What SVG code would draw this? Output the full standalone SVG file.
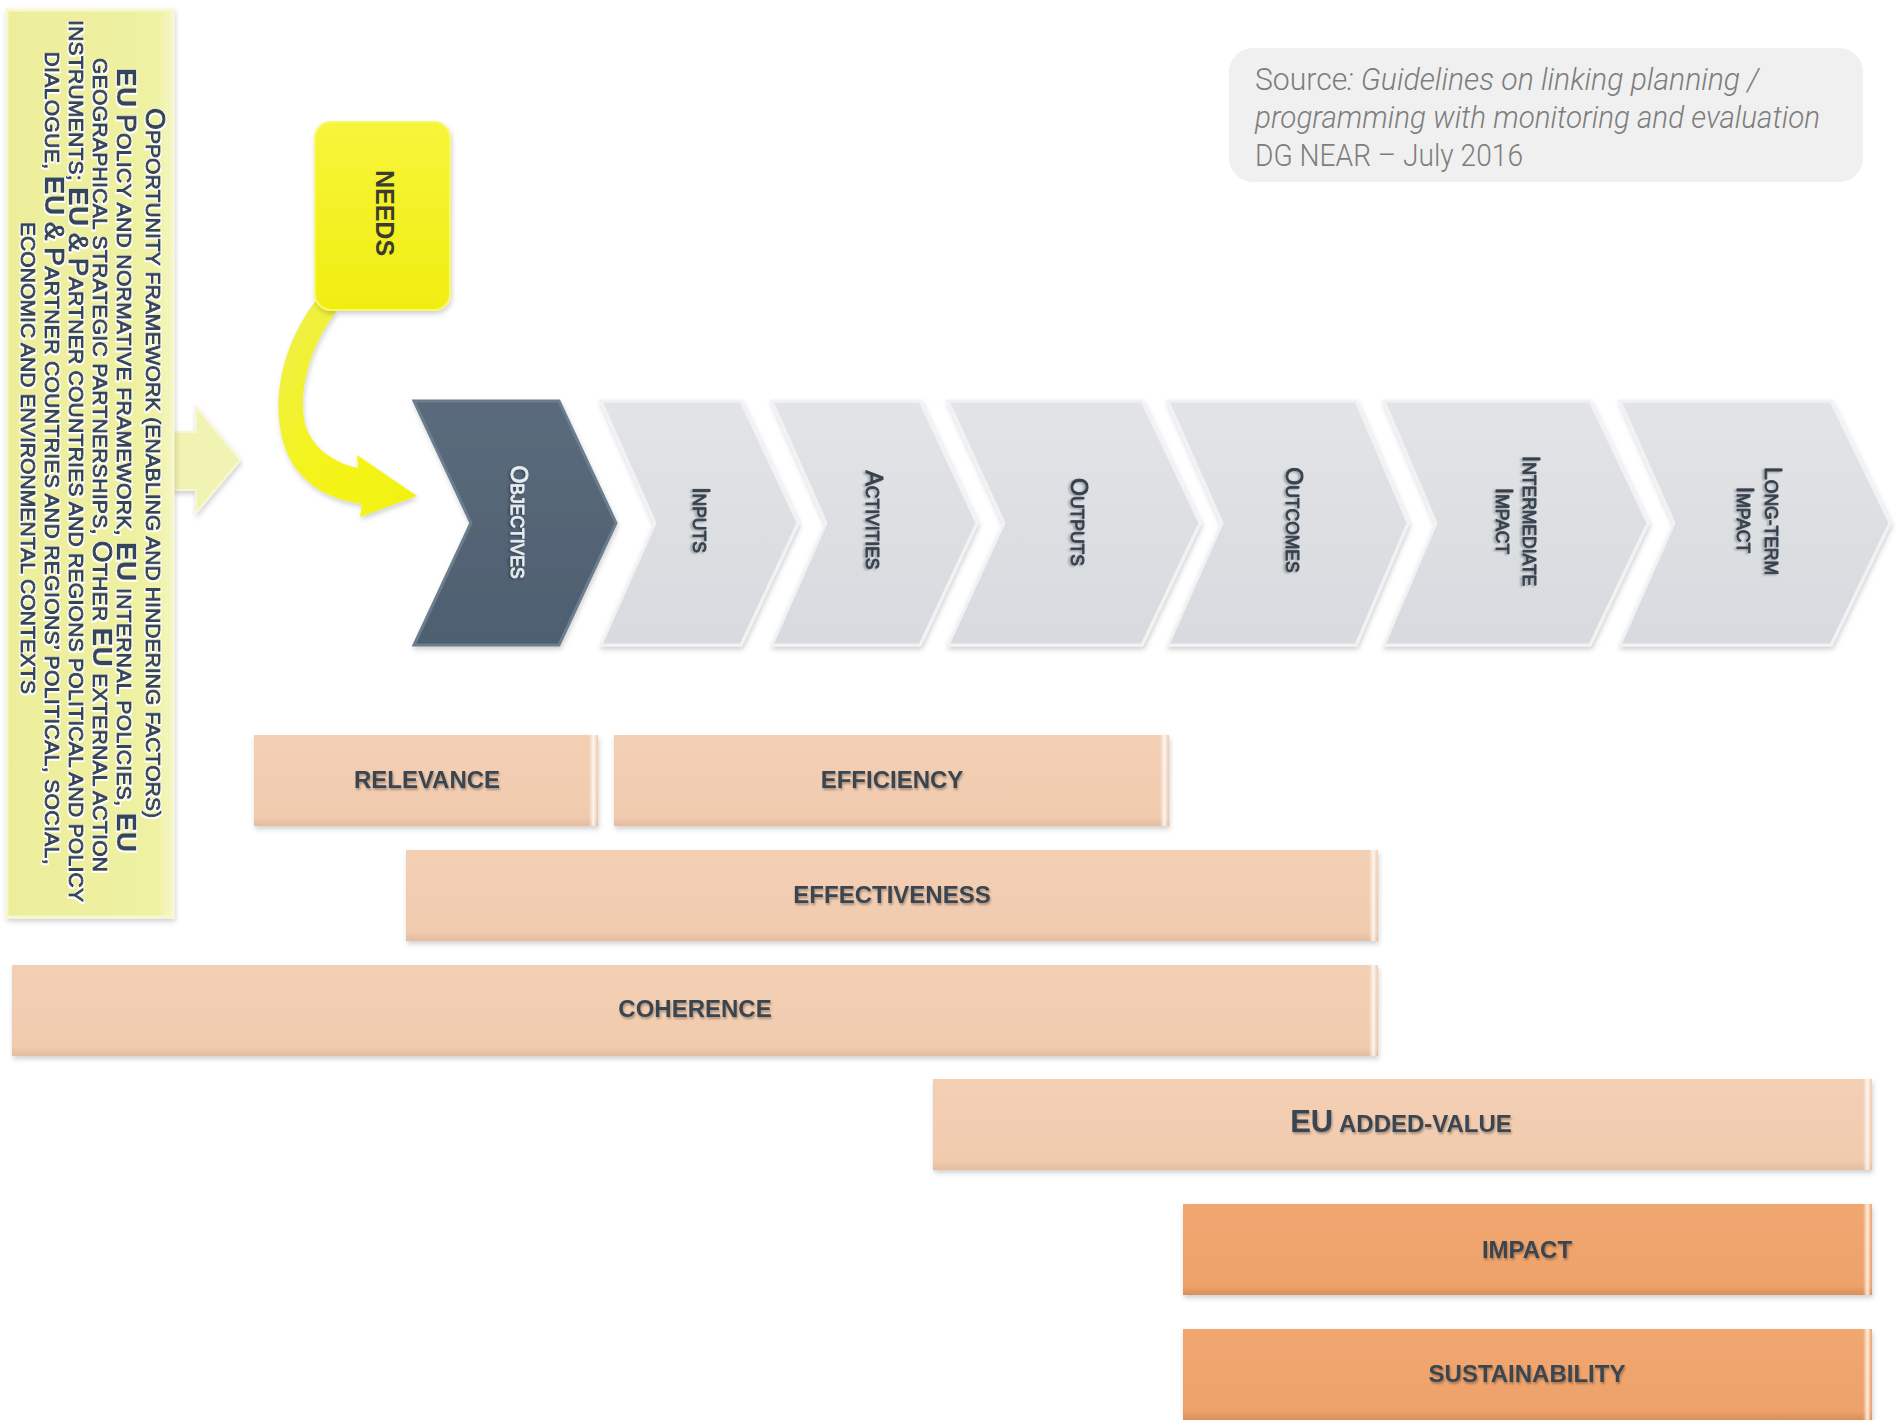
<svg xmlns="http://www.w3.org/2000/svg" width="1899" height="1420" viewBox="0 0 1899 1420">
  <defs>
    <style>
      .sans { font-family: "Liberation Sans", Arial, sans-serif; }
      .panel-txt { font-family: "Liberation Sans", Arial, sans-serif; font-size: 21px; fill: #34445a; stroke: #34445a; stroke-width: 1.1px; stroke-linejoin: round; filter: url(#halo); }
      .pl { font-size: 28px; }
      .plb { font-size: 28px; font-weight: bold; stroke-width: 0.5px; }
      .chev-txt { font-family: "Liberation Sans", Arial, sans-serif; font-size: 17.5px; fill: #36424f; stroke: #36424f; stroke-width: 0.9px; stroke-linejoin: round; filter: url(#tshadow); }
      .chev-txt .L { font-size: 23px; }
      .chev-dark-txt { fill: #e6ebf0; stroke: #e6ebf0; filter: url(#tshadowDark); }
      .bar-txt { font-family: "Liberation Sans", Arial, sans-serif; font-size: 24px; font-weight: bold; fill: #3b4550; filter: url(#tshadow); }
      .bar-txt .L { font-size: 31px; }
      .src { font-family: "Roboto", "Liberation Sans", sans-serif; font-weight: 300; font-size: 31px; fill: #7d7d7d; }
      .chev-light { fill: url(#gChevLight); stroke: #f1f2f4; stroke-width: 3; stroke-linejoin: miter; }
      .chev-dark { fill: url(#gChevDark); stroke: #6c7d8e; stroke-width: 3; stroke-linejoin: miter; }
      .bar-peach { fill: url(#gPeach); }
      .bar-orange { fill: url(#gOrange); }
    </style>
    <filter id="halo" x="-5%" y="-40%" width="110%" height="180%">
      <feMorphology in="SourceAlpha" operator="dilate" radius="1.1" result="d"/>
      <feOffset in="d" dx="0" dy="1" result="o"/>
      <feGaussianBlur in="o" stdDeviation="0.5" result="b"/>
      <feFlood flood-color="#ffffff"/>
      <feComposite in2="b" operator="in" result="w"/>
      <feMerge><feMergeNode in="w"/><feMergeNode in="SourceGraphic"/></feMerge>
    </filter>
    <filter id="tshadow" x="-10%" y="-40%" width="120%" height="180%">
      <feDropShadow dx="1" dy="2" stdDeviation="1.2" flood-color="#000000" flood-opacity="0.3"/>
    </filter>
    <filter id="tshadowDark" x="-10%" y="-40%" width="120%" height="180%">
      <feDropShadow dx="1" dy="1.5" stdDeviation="1" flood-color="#1d2730" flood-opacity="0.6"/>
    </filter>
    <filter id="shade" x="-5%" y="-10%" width="110%" height="125%">
      <feDropShadow dx="1" dy="3" stdDeviation="2.5" flood-color="#000000" flood-opacity="0.18"/>
    </filter>
    <linearGradient id="gChevLight" x1="0" y1="0" x2="0" y2="1">
      <stop offset="0" stop-color="#e2e4e7"/>
      <stop offset="1" stop-color="#d7dade"/>
    </linearGradient>
    <linearGradient id="gChevDark" x1="0" y1="0" x2="0" y2="1">
      <stop offset="0" stop-color="#5a6b7c"/>
      <stop offset="1" stop-color="#4e5f70"/>
    </linearGradient>
    <linearGradient id="gPeach" x1="0" y1="0" x2="0" y2="1">
      <stop offset="0" stop-color="#f3cfb4"/>
      <stop offset="0.9" stop-color="#f1cbae"/>
      <stop offset="1" stop-color="#e4bc9f"/>
    </linearGradient>
    <linearGradient id="gOrange" x1="0" y1="0" x2="0" y2="1">
      <stop offset="0" stop-color="#f1a770"/>
      <stop offset="0.9" stop-color="#eea26b"/>
      <stop offset="1" stop-color="#d98f5b"/>
    </linearGradient>
    <linearGradient id="gEdge" x1="0" y1="0" x2="1" y2="0">
      <stop offset="0" stop-color="#ffffff" stop-opacity="0"/>
      <stop offset="0.55" stop-color="#ffffff" stop-opacity="0.8"/>
      <stop offset="1" stop-color="#ffffff" stop-opacity="0.1"/>
    </linearGradient>
    <linearGradient id="gPanel" x1="0" y1="0" x2="1" y2="0">
      <stop offset="0" stop-color="#ecee9b"/>
      <stop offset="0.9" stop-color="#eff1a3"/>
      <stop offset="1" stop-color="#f6f7c6"/>
    </linearGradient>
    <linearGradient id="gNeeds" x1="0" y1="0" x2="0" y2="1">
      <stop offset="0" stop-color="#f7f53a"/>
      <stop offset="1" stop-color="#f0ee10"/>
    </linearGradient>
    <linearGradient id="gCurve" x1="0" y1="0" x2="1" y2="1">
      <stop offset="0" stop-color="#eeee50"/>
      <stop offset="0.5" stop-color="#f4f41c"/>
      <stop offset="1" stop-color="#f2f20e"/>
    </linearGradient>
  </defs>

  <rect width="1899" height="1420" fill="#ffffff"/>

  <!-- source note -->
  <g id="source-note">
    <rect x="1229" y="48" width="634" height="134" rx="24" fill="#f0f0f0"/>
    <text class="src" x="1255" y="90" textLength="504" lengthAdjust="spacingAndGlyphs">Source<tspan font-style="italic">: Guidelines on linking planning /</tspan></text>
    <text class="src" x="1255" y="128" font-style="italic" textLength="565" lengthAdjust="spacingAndGlyphs">programming with monitoring and evaluation</text>
    <text class="src" x="1255" y="166" textLength="268" lengthAdjust="spacingAndGlyphs">DG NEAR – July 2016</text>
  </g>

  <!-- connectors -->
  <g id="connectors">
    <polygon id="arrow-framework" points="170,432 196,432 196,407 240,460 196,513 196,490 170,490" fill="#f1f3b2" stroke="#f7f8d2" stroke-width="2" filter="url(#shade)"/>
    <path id="arrow-needs" d="M 318,298 C 280,345 268,410 288,455 C 303,487 333,500 362,504 L 360,517 L 417,496 L 357,455 L 358,468 C 336,463 316,451 307,430 C 297,405 305,352 336,312 Z" fill="url(#gCurve)" filter="url(#shade)"/>
  </g>

  <!-- opportunity framework panel -->
  <g id="framework">
    <rect x="7" y="10" width="166" height="907" fill="url(#gPanel)" stroke="#f7f8cf" stroke-width="3" filter="url(#shade)"/>
    <g class="panel-txt">
      <text transform="translate(146,463) rotate(90)" text-anchor="middle" textLength="710" lengthAdjust="spacing"><tspan class="pl">O</tspan>PPORTUNITY FRAMEWORK (ENABLING AND HINDERING FACTORS)</text>
      <text transform="translate(117,460) rotate(90)" text-anchor="middle" textLength="784" lengthAdjust="spacing"><tspan class="plb">EU</tspan> <tspan class="pl">P</tspan>OLICY AND NORMATIVE FRAMEWORK, <tspan class="plb">EU</tspan> INTERNAL POLICIES, <tspan class="plb">EU</tspan></text>
      <text transform="translate(93,465) rotate(90)" text-anchor="middle" textLength="814" lengthAdjust="spacing">GEOGRAPHICAL STRATEGIC PARTNERSHIPS, <tspan class="pl">O</tspan>THER <tspan class="plb">EU</tspan> EXTERNAL ACTION</text>
      <text transform="translate(69,461) rotate(90)" text-anchor="middle" textLength="882" lengthAdjust="spacing">INSTRUMENTS; <tspan class="plb">EU</tspan> <tspan class="pl">&amp;</tspan> <tspan class="pl">P</tspan>ARTNER COUNTRIES AND REGIONS POLITICAL AND POLICY</text>
      <text transform="translate(45,458) rotate(90)" text-anchor="middle" textLength="813" lengthAdjust="spacing">DIALOGUE, <tspan class="plb">EU</tspan> <tspan class="pl">&amp;</tspan> <tspan class="pl">P</tspan>ARTNER COUNTRIES AND REGIONS’ POLITICAL, SOCIAL,</text>
      <text transform="translate(21,458) rotate(90)" text-anchor="middle" textLength="472" lengthAdjust="spacing">ECONOMIC AND ENVIRONMENTAL CONTEXTS</text>
    </g>
  </g>

  <!-- needs -->
  <g id="needs">
    <rect x="315" y="122" width="135" height="188" rx="16" fill="url(#gNeeds)" stroke="#f9f86a" stroke-width="2" filter="url(#shade)"/>
    <text class="sans" transform="translate(385,213) rotate(90)" y="9" text-anchor="middle" font-size="25" font-weight="bold" fill="#3b3b32">NEEDS</text>
  </g>

  <!-- results chain -->
  <g id="objectives" filter="url(#shade)">
    <polygon class="chev-dark" points="414,401 559,401 616,523 559,645 414,645 471,523"/>
    <text class="chev-txt chev-dark-txt" transform="translate(517,522) rotate(90)" y="6" text-anchor="middle"><tspan class="L">O</tspan>BJECTIVES</text>
  </g>
  <g id="inputs" filter="url(#shade)">
    <polygon class="chev-light" points="601,401 741,401 798,523 741,645 601,645 655,523"/>
    <text class="chev-txt" transform="translate(699,520) rotate(90)" y="6" text-anchor="middle"><tspan class="L">I</tspan>NPUTS</text>
  </g>
  <g id="activities" filter="url(#shade)">
    <polygon class="chev-light" points="772,401 920,401 977,523 920,645 772,645 826,523"/>
    <text class="chev-txt" transform="translate(872,520) rotate(90)" y="6" text-anchor="middle"><tspan class="L">A</tspan>CTIVITIES</text>
  </g>
  <g id="outputs" filter="url(#shade)">
    <polygon class="chev-light" points="948,401 1142,401 1200,523 1142,645 948,645 1004,523"/>
    <text class="chev-txt" transform="translate(1077,522) rotate(90)" y="6" text-anchor="middle"><tspan class="L">O</tspan>UTPUTS</text>
  </g>
  <g id="outcomes" filter="url(#shade)">
    <polygon class="chev-light" points="1168,401 1356,401 1408,523 1356,645 1168,645 1222,523"/>
    <text class="chev-txt" transform="translate(1292,520) rotate(90)" y="6" text-anchor="middle"><tspan class="L">O</tspan>UTCOMES</text>
  </g>
  <g id="intermediate-impact" filter="url(#shade)">
    <polygon class="chev-light" points="1384,401 1590,401 1648,523 1590,645 1384,645 1436,523"/>
    <text class="chev-txt" transform="translate(1529,521) rotate(90)" y="6" text-anchor="middle"><tspan class="L">I</tspan>NTERMEDIATE</text>
    <text class="chev-txt" transform="translate(1502,521) rotate(90)" y="6" text-anchor="middle"><tspan class="L">I</tspan>MPACT</text>
  </g>
  <g id="long-term-impact" filter="url(#shade)">
    <polygon class="chev-light" points="1620,401 1831,401 1890,523 1831,645 1620,645 1674,523"/>
    <text class="chev-txt" transform="translate(1771,521) rotate(90)" y="6" text-anchor="middle"><tspan class="L">L</tspan>ONG-TERM</text>
    <text class="chev-txt" transform="translate(1743,520) rotate(90)" y="6" text-anchor="middle"><tspan class="L">I</tspan>MPACT</text>
  </g>

  <!-- evaluation criteria -->
  <g id="relevance" filter="url(#shade)">
    <rect class="bar-peach" x="254" y="735" width="344" height="91"/>
    <rect x="589" y="735" width="8" height="91" fill="url(#gEdge)"/>
    <text class="bar-txt" x="427" y="788" text-anchor="middle">RELEVANCE</text>
  </g>
  <g id="efficiency" filter="url(#shade)">
    <rect class="bar-peach" x="614" y="735" width="555" height="91"/>
    <rect x="1160" y="735" width="8" height="91" fill="url(#gEdge)"/>
    <text class="bar-txt" x="892" y="788" text-anchor="middle">EFFICIENCY</text>
  </g>
  <g id="effectiveness" filter="url(#shade)">
    <rect class="bar-peach" x="406" y="850" width="972" height="91"/>
    <rect x="1369" y="850" width="8" height="91" fill="url(#gEdge)"/>
    <text class="bar-txt" x="892" y="903" text-anchor="middle">EFFECTIVENESS</text>
  </g>
  <g id="coherence" filter="url(#shade)">
    <rect class="bar-peach" x="12" y="965" width="1366" height="91"/>
    <rect x="1369" y="965" width="8" height="91" fill="url(#gEdge)"/>
    <text class="bar-txt" x="695" y="1017" text-anchor="middle">COHERENCE</text>
  </g>
  <g id="eu-added-value" filter="url(#shade)">
    <rect class="bar-peach" x="933" y="1079" width="939" height="91"/>
    <rect x="1863" y="1079" width="8" height="91" fill="url(#gEdge)"/>
    <text class="bar-txt" x="1401" y="1132" text-anchor="middle"><tspan class="L">EU</tspan> ADDED-VALUE</text>
  </g>
  <g id="impact" filter="url(#shade)">
    <rect class="bar-orange" x="1183" y="1204" width="689" height="91"/>
    <rect x="1863" y="1204" width="8" height="91" fill="url(#gEdge)"/>
    <text class="bar-txt" x="1527" y="1258" text-anchor="middle">IMPACT</text>
  </g>
  <g id="sustainability" filter="url(#shade)">
    <rect class="bar-orange" x="1183" y="1329" width="689" height="91"/>
    <rect x="1863" y="1329" width="8" height="91" fill="url(#gEdge)"/>
    <text class="bar-txt" x="1527" y="1382" text-anchor="middle">SUSTAINABILITY</text>
  </g>
</svg>
